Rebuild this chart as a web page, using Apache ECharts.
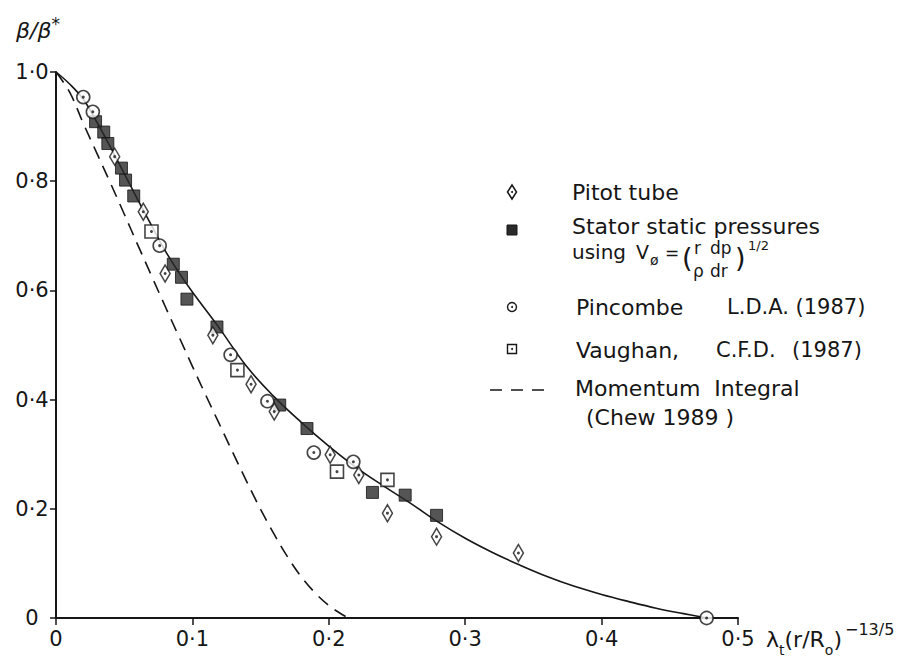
<!DOCTYPE html>
<html><head><meta charset="utf-8">
<script src="https://cdn.jsdelivr.net/npm/echarts@6/dist/echarts.min.js"></script>
<style>html,body{margin:0;padding:0;background:#fff}#c{width:923px;height:664px}</style>
</head><body><div id="c"></div>
<script>
// ---- data ----
const xTickLabels = ['0', '0·1', '0·2', '0·3', '0·4', '0·5'];
const yTickLabels = ['0', '0·2', '0·4', '0·6', '0·8', '1·0'];

const pitotTube = [[0.043,0.845],[0.064,0.744],[0.080,0.631],[0.115,0.518],[0.143,0.428],[0.160,0.378],[0.201,0.299],[0.222,0.262],[0.243,0.192],[0.279,0.149],[0.339,0.119]];
const statorStatic = [[0.029,0.909],[0.035,0.890],[0.038,0.869],[0.048,0.824],[0.051,0.802],[0.057,0.773],[0.086,0.648],[0.092,0.624],[0.096,0.584],[0.118,0.533],[0.164,0.390],[0.184,0.347],[0.232,0.230],[0.256,0.225],[0.279,0.188]];
const pincombeLDA = [[0.020,0.954],[0.027,0.927],[0.076,0.682],[0.128,0.482],[0.155,0.397],[0.189,0.303],[0.218,0.286],[0.477,0.0]];
const vaughanCFD = [[0.070,0.708],[0.133,0.454],[0.206,0.268],[0.243,0.253]];

const fittedCurve = [[0,1.0],[0.01,0.978],[0.02,0.950],[0.03,0.908],[0.04,0.862],[0.05,0.814],[0.06,0.766],[0.07,0.719],[0.08,0.673],[0.09,0.633],[0.10,0.597],[0.12,0.530],[0.14,0.460],[0.16,0.405],[0.18,0.358],[0.20,0.315],[0.22,0.276],[0.24,0.242],[0.26,0.210],[0.28,0.176],[0.30,0.146],[0.32,0.120],[0.34,0.097],[0.36,0.076],[0.38,0.058],[0.40,0.043],[0.42,0.030],[0.44,0.018],[0.46,0.008],[0.477,0.0]];
const momentumIntegral = [[0,1.0],[0.01,0.963],[0.02,0.906],[0.03,0.851],[0.04,0.796],[0.05,0.740],[0.06,0.683],[0.07,0.627],[0.08,0.571],[0.09,0.516],[0.10,0.461],[0.11,0.407],[0.12,0.354],[0.13,0.301],[0.14,0.249],[0.15,0.199],[0.16,0.153],[0.17,0.111],[0.18,0.075],[0.19,0.046],[0.20,0.023],[0.21,0.006],[0.215,0]];

// ---- chart ----
const FONT = '"DejaVu Sans", sans-serif';
const INK = '#161616';
const chart = echarts.init(document.getElementById('c'), null, {renderer: 'svg'});

function dotSeries(data) {
  return {type: 'scatter', data: data, symbol: 'circle', symbolSize: 3, silent: true,
    itemStyle: {color: INK}, z: 6};
}
function txt(x, y, text, size, extra) {
  return Object.assign({type: 'text', x: x, y: y, silent: true,
    style: {text: text, fontSize: size, fontFamily: FONT, fill: INK, verticalAlign: 'middle', align: 'left'}}, extra || {});
}

const legendX = 512;
const graphics = [
  // legend symbols
  {type: 'polygon', silent: true, shape: {points: [[legendX,185],[legendX+4.5,192],[legendX,199],[legendX-4.5,192]]}, style: {fill: '#fff', stroke: INK, lineWidth: 1.5}},
  {type: 'circle', silent: true, shape: {cx: legendX, cy: 192, r: 1}, style: {fill: INK}},
  {type: 'rect', silent: true, shape: {x: legendX-5, y: 225, width: 10, height: 10}, style: {fill: '#2a2a2a', stroke: INK, lineWidth: 1}},
  {type: 'circle', silent: true, shape: {cx: legendX, cy: 307, r: 4.5}, style: {fill: '#fff', stroke: INK, lineWidth: 1.4}},
  {type: 'circle', silent: true, shape: {cx: legendX, cy: 307, r: 1}, style: {fill: INK}},
  {type: 'rect', silent: true, shape: {x: legendX-4.5, y: 344.5, width: 9, height: 9}, style: {fill: '#fff', stroke: INK, lineWidth: 1.4}},
  {type: 'circle', silent: true, shape: {cx: legendX, cy: 349, r: 1}, style: {fill: INK}},
  {type: 'line', silent: true, shape: {x1: 490, y1: 390, x2: 547, y2: 390}, style: {stroke: INK, lineWidth: 1.5, lineDash: [12, 9]}},
  // legend texts
  txt(572, 192, 'Pitot tube', 22),
  txt(572, 226, 'Stator static pressures', 22),
  txt(572, 252, 'using', 20),
  txt(636, 252, 'V', 19),
  txt(650, 260, 'ø', 14),
  txt(665, 253, '=', 17),
  txt(682, 257, '(', 27),
  txt(694, 248, 'r', 17),
  txt(693, 271, 'ρ', 17),
  txt(710, 248, 'dp', 17),
  txt(710, 271, 'dr', 17),
  txt(735, 257, ')', 27),
  txt(748, 245, '1/2', 13),
  txt(576, 307, 'Pincombe', 22),
  txt(727, 307, 'L.D.A. (1987)', 21),
  txt(576, 350, 'Vaughan,', 22),
  txt(716, 350, 'C.F.D.', 21),
  txt(792, 350, '(1987)', 21),
  txt(575, 388, 'Momentum  Integral', 22),
  txt(586, 417, '(Chew 1989 )', 22),
  // axis titles
  {type: 'text', x: 16, y: 30, silent: true, style: {
    text: '{m|β/β}{s|*}', fontFamily: FONT, fill: INK, verticalAlign: 'middle',
    rich: {m: {fontSize: 22, fontStyle: 'italic', lineHeight: 30, fontFamily: FONT, fill: INK},
           s: {fontSize: 17, lineHeight: 17, verticalAlign: 'top', fontFamily: FONT, fill: INK}}}},
  {type: 'text', x: 766, y: 639, silent: true, style: {
    text: '{m|λ}{b|t}{m|(r/R}{b|o}{m|)}{p|−13/5}', fontFamily: FONT, fill: INK, verticalAlign: 'middle',
    rich: {m: {fontSize: 22, lineHeight: 36, fontFamily: FONT, fill: INK},
           b: {fontSize: 14, lineHeight: 14, verticalAlign: 'bottom', fontFamily: FONT, fill: INK},
           p: {fontSize: 16, lineHeight: 16, verticalAlign: 'top', fontFamily: FONT, fill: INK, padding: [0,0,0,3]}}}}
];

const option = {
  backgroundColor: '#fff',
  animation: false,
  grid: {left: 56, right: 185, top: 72, bottom: 46, containLabel: false},
  xAxis: {
    type: 'value', min: 0, max: 0.5, interval: 0.1,
    axisLine: {show: true, onZero: false, lineStyle: {color: INK, width: 2}},
    axisTick: {show: true, inside: false, length: 7, lineStyle: {color: INK, width: 1.5}},
    splitLine: {show: false},
    axisLabel: {margin: 10, fontSize: 21, fontFamily: FONT, color: INK,
      formatter: v => xTickLabels[Math.round(v * 10)]}
  },
  yAxis: {
    type: 'value', min: 0, max: 1.0, interval: 0.2,
    axisLine: {show: true, onZero: false, lineStyle: {color: INK, width: 2}},
    axisTick: {show: true, inside: false, length: 6, lineStyle: {color: INK, width: 1.5}},
    splitLine: {show: false},
    axisLabel: {margin: 24, align: 'center', fontSize: 21, fontFamily: FONT, color: INK,
      formatter: v => yTickLabels[Math.round(v * 5)]}
  },
  graphic: graphics,
  series: [
    {name: 'Fitted curve', type: 'line', data: fittedCurve, smooth: 0.4, symbol: 'none', silent: true,
      lineStyle: {color: INK, width: 1.6}, z: 2},
    {name: 'Momentum Integral (Chew 1989)', type: 'line', data: momentumIntegral, smooth: 0.4, symbol: 'none', silent: true,
      lineStyle: {color: INK, width: 1.6, type: [13, 8]}, z: 2},
    {name: 'Stator static pressures', type: 'scatter', data: statorStatic, symbol: 'rect', symbolSize: 12,
      itemStyle: {color: '#2a2a2a', borderColor: INK, borderWidth: 1}, z: 4},
    {name: 'Pitot tube', type: 'scatter', data: pitotTube, symbol: 'diamond', symbolSize: [10, 17],
      itemStyle: {color: '#fff', borderColor: INK, borderWidth: 1.6}, z: 5},
    {name: 'Pincombe L.D.A. (1987)', type: 'scatter', data: pincombeLDA, symbol: 'circle', symbolSize: 13,
      itemStyle: {color: '#fff', borderColor: INK, borderWidth: 1.6}, z: 5},
    {name: 'Vaughan, C.F.D. (1987)', type: 'scatter', data: vaughanCFD, symbol: 'rect', symbolSize: 13,
      itemStyle: {color: '#fff', borderColor: INK, borderWidth: 1.6}, z: 5},
    dotSeries(pitotTube), dotSeries(pincombeLDA), dotSeries(vaughanCFD)
  ]
};
chart.setOption(option);
</script>
</body></html>
